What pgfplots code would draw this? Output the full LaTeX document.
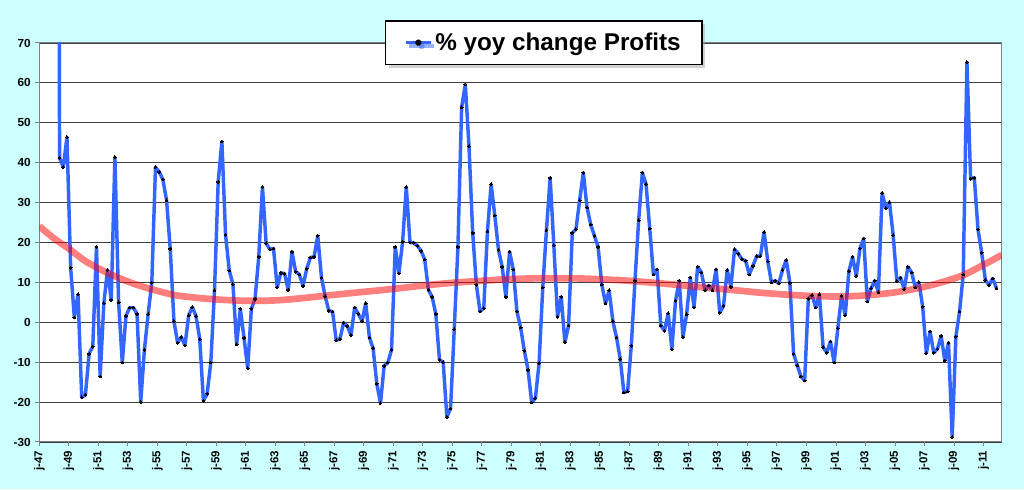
\documentclass[border=0pt]{standalone}
\usepackage{fontspec}
\setmainfont{Liberation Sans}
\usepackage{pgfplots}
\usepackage{pgfplotstable}
\pgfplotsset{compat=1.18}
\usetikzlibrary{shadows}
\definecolor{bgc}{RGB}{204,255,255}
\definecolor{lineblue}{RGB}{51,102,255}

\pgfplotstableread{
q v
4 400
5 41.2
6 38.9
7 46.4
8 13.7
9 1.2
10 7.0
11 -18.8
12 -18.2
13 -7.9
14 -6.1
15 18.9
16 -13.6
17 4.75
18 13.1
19 5.6
20 41.4
21 5.0
22 -10.1
23 1.6
24 3.7
25 3.7
26 2.1
27 -20.0
28 -6.9
29 2.0
30 9.9
31 38.9
32 37.7
33 35.8
34 30.6
35 18.4
36 0.3
37 -5.1
38 -3.7
39 -5.8
40 1.75
41 3.8
42 1.5
43 -4.2
44 -19.7
45 -17.9
46 -10.1
47 8.0
48 35.2
49 45.3
50 21.9
51 13.0
52 9.5
53 -5.5
54 3.4
55 -3.9
56 -11.5
57 3.4
58 5.9
59 16.4
60 33.9
61 19.8
62 18.3
63 18.5
64 8.75
65 12.4
66 12.2
67 8.1
68 17.7
69 12.7
70 12.0
71 9.1
72 13.4
73 16.25
74 16.4
75 21.7
76 11.2
77 6.5
78 2.9
79 2.7
80 -4.5
81 -4.25
82 -0.1
83 -0.9
84 -3.25
85 3.7
86 2.1
87 0.3
88 4.75
89 -3.8
90 -6.5
91 -15.4
92 -20.25
93 -10.9
94 -10.1
95 -6.9
96 18.9
97 12.25
98 20.2
99 33.9
100 20.0
101 19.9
102 19.2
103 17.9
104 15.75
105 8.1
106 6.4
107 2.1
108 -9.4
109 -10.0
110 -23.75
111 -21.6
112 -1.75
113 18.9
114 53.9
115 59.6
116 44.1
117 22.4
118 9.4
119 2.7
120 3.5
121 22.8
122 34.6
123 26.75
124 18.1
125 13.9
126 6.4
127 17.7
128 13.25
129 2.7
130 -1.3
131 -7.1
132 -11.9
133 -20.1
134 -19.0
135 -10.25
136 8.7
137 23.1
138 36.2
139 19.3
140 1.4
141 6.4
142 -5.0
143 -0.8
144 22.4
145 23.3
146 30.6
147 37.5
148 28.75
149 24.5
150 21.7
151 18.9
152 9.5
153 4.75
154 8.0
155 0.3
156 -3.8
157 -9.2
158 -17.6
159 -17.3
160 -5.9
161 10.4
162 25.6
163 37.5
164 34.6
165 23.5
166 12.0
167 13.25
168 -0.8
169 -2.1
170 2.25
171 -6.75
172 5.4
173 10.4
174 -3.75
175 2.0
176 11.25
177 3.7
178 13.9
179 12.5
180 8.0
181 9.2
182 8.0
183 13.25
184 2.4
185 4.1
186 13.1
187 8.9
188 18.3
189 17.2
190 15.8
191 15.4
192 12.0
193 14.2
194 16.6
195 16.6
196 22.6
197 15.3
198 10.0
199 10.4
200 9.75
201 13.1
202 15.6
203 9.9
204 -7.9
205 -10.8
206 -13.6
207 -14.6
208 5.9
209 6.8
210 3.7
211 7.0
212 -6.25
213 -7.6
214 -4.8
215 -10.1
216 -1.5
217 6.6
218 1.75
219 12.8
220 16.4
221 11.6
222 18.5
223 21.0
224 5.2
225 8.5
226 10.4
227 7.5
228 32.4
229 28.6
230 30.1
231 21.8
232 10.3
233 11.2
234 8.3
235 13.9
236 12.5
237 8.7
238 10.0
239 3.9
240 -7.75
241 -2.3
242 -7.6
243 -6.7
244 -3.4
245 -9.6
246 -5.1
247 -28.8
248 -3.6
249 2.7
250 12.0
251 65.2
252 36.0
253 36.2
254 23.25
255 17.4
256 10.6
257 9.3
258 11.0
259 8.5
}\profits

\pgfplotstableread{
u t
0 24.1
4 21.0
8.1 18.4
12.4 15.4
18 12.6
24.6 10.0
30 8.4
36.3 6.9
42 6.2
48.5 5.7
54 5.45
60.7 5.4
66 5.6
72.9 6.2
78 6.7
84.3 7.3
91 7.9
97.3 8.5
103 9.1
109.5 9.7
115 10.1
121.7 10.5
127 10.8
133.9 11.0
140 11.05
146.1 11.0
152 10.8
158.3 10.5
164 10.1
170.5 9.6
177 9.0
183 8.5
189 8.0
194.6 7.5
200 7.1
206.8 6.7
213 6.5
219 6.5
225 6.8
231.2 7.4
237 8.3
243.4 9.7
250.2 11.7
255.6 14.2
261 16.9
}\trend

\begin{document}
\begin{tikzpicture}
\fill[bgc] (0pt,0pt) rectangle (768pt,366.75pt);
\begin{axis}[
  at={(29.475pt,35.25pt)}, anchor=south west,
  scale only axis, width=722pt, height=299.25pt,
  xmin=0, xmax=261, ymin=-30, ymax=70,
  axis background/.style={fill=white},
  axis line style={gray, line width=0.75pt},
  ytick={-30,-20,...,70},
  yticklabels={-30,-20,-10,0,10,20,30,40,50,60,70},
  ymajorgrids,
  major grid style={black!75, line width=0.6pt},
  xtick={0,8,...,256},
  xticklabels={j-47,j-49,j-51,j-53,j-55,j-57,j-59,j-61,j-63,j-65,j-67,j-69,j-71,j-73,j-75,j-77,j-79,j-81,j-83,j-85,j-87,j-89,j-91,j-93,j-95,j-97,j-99,j-01,j-03,j-05,j-07,j-09,j-11},
  xtick pos=bottom, ytick pos=left,
  tick align=outside, major tick length=3pt,
  tick style={gray, line width=0.75pt},
  xticklabel style={rotate=90, anchor=east, font=\bfseries\fontsize{8.6}{10}\selectfont},
  yticklabel style={font=\bfseries\fontsize{8.8}{10}\selectfont},
  legend style={at={(0.524,1.001)}, anchor=center, draw=black, line width=1.1pt,
    fill=white, font=\bfseries\fontsize{18.2}{21}\selectfont,
    inner xsep=14pt, inner ysep=7pt,
    drop shadow={shadow xshift=2.5pt, shadow yshift=-2.5pt, fill=black!35}},
  legend image code/.code={
    \draw[lineblue, line width=2.6pt] (0pt,0pt) -- (18.75pt,0pt);
    \fill[black] (9.4pt,0pt) circle (1.3pt);
  },
]
\addplot[lineblue, line width=2.6pt, line join=round, mark=*, mark size=1.05pt,
  mark options={black, fill=black, line width=0pt}]
  table[x expr=\thisrow{q}+0.5, y=v] {\profits};
\addlegendentry{\% yoy change Profits}
\addplot[red, opacity=0.5, line width=5pt, smooth, no markers, forget plot]
  table[x=u, y=t] {\trend};
\end{axis}
\end{tikzpicture}
\end{document}
